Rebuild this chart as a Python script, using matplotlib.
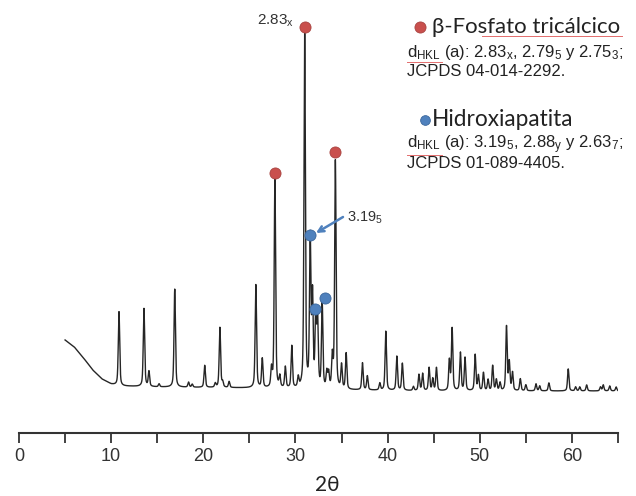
import numpy as np
import matplotlib
matplotlib.use("Agg")
import matplotlib.pyplot as plt

plt.rcParams['font.family'] = ['Liberation Sans', 'DejaVu Sans']
plt.rcParams['mathtext.fontset'] = 'custom'
plt.rcParams['mathtext.rm'] = 'Liberation Sans'
plt.rcParams['mathtext.it'] = 'Liberation Sans:italic'
plt.rcParams['mathtext.default'] = 'regular'

# ── Data ──────────────────────────────────────────────────────────────
# background knots (2θ, intensity a.u.)
bg_x = [5.0, 6.0, 7.0, 8.0, 9.0, 10.0, 11.0, 15.0, 25.0, 35.0, 45.0, 55.0, 65.0]
bg_y = [93, 86, 75, 63, 54, 49, 47, 46, 45, 43, 42, 42, 42]

# peak list: position (2θ) and net height above background
peak_pos = [10.85, 13.56, 14.1, 15.2, 16.9, 18.4, 18.8, 20.15, 21.3, 21.8, 22.1, 22.8,
            25.7, 26.4, 27.4, 27.77, 28.3, 28.9, 29.6, 30.3, 31.0, 31.6, 31.85, 32.2,
            32.4, 32.9, 33.4, 33.6, 34.0, 34.33, 35.0, 35.5,
            37.27, 37.8, 39.15, 39.8, 41.0, 41.6, 42.8, 43.4, 43.8, 44.5, 44.9, 45.3,
            46.7, 47.0, 47.9, 48.4, 49.5, 49.85, 50.4, 50.9, 51.4, 51.8, 52.2,
            52.9, 53.2, 53.55, 54.4, 55.0, 56.1, 56.5, 57.5, 59.6, 60.4, 60.85,
            61.6, 63.1, 63.4, 64.1, 64.8]
peak_h = [74, 78, 15, 3, 98, 5, 3, 22, 4, 60, 5, 6,
          103, 29, 18, 208, 11, 21, 42, 10, 355, 148, 90, 70,
          68, 85, 16, 15, 31, 228, 24, 36,
          27, 14, 7, 59, 34, 27, 4, 16, 17, 23, 12, 23,
          30, 62, 38, 33, 36, 15, 18, 11, 25, 11, 8,
          64, 28, 18, 12, 6, 7, 5, 8, 22, 4, 4,
          6, 4, 6, 5, 4]

# phase markers
tcp_x = [27.77, 31.0, 34.3]       # β-fosfato tricálcico
tcp_y = [260, 406, 281]
hap_x = [31.56, 32.1, 33.19]      # hidroxiapatita
hap_y = [198, 124, 135]

ticks = [0, 5, 10, 15, 20, 25, 30, 35, 40, 45, 50, 55, 60, 65]
tick_labels = ['0', '', '10', '', '20', '', '30', '', '40', '', '50', '', '60', '']

RED, RED_E = '#C9504D', '#A84340'
BLU, BLU_E = '#4F81BD', '#3B679C'
W, H = 636, 496

# ── Pattern ───────────────────────────────────────────────────────────
tt = np.arange(5.0, 65.3, 0.01)
inten = np.interp(tt, bg_x, bg_y)
fw = 0.18
for p, h in zip(peak_pos, peak_h):
    d = (tt - p) / fw
    inten += h * (0.5 / (1 + 4 * d**2) + 0.5 * np.exp(-4 * np.log(2) * d**2))

fig = plt.figure(figsize=(W / 100, H / 100), dpi=100)
ax = fig.add_axes([19 / W, 1 - 433 / H, (618 - 19) / W, (433 - 20) / H])
ax.plot(tt, inten, color='#262626', lw=1.0)
ax.plot(tcp_x, tcp_y, 'o', ms=8, mfc=RED, mec=RED_E, mew=0.6, ls='none', clip_on=False, zorder=5)
ax.plot(hap_x, hap_y, 'o', ms=8, mfc=BLU, mec=BLU_E, mew=0.6, ls='none', clip_on=False, zorder=5)

ax.set_xlim(0, 65)
ax.set_ylim(0, 413)
for s in ['top', 'left', 'right']:
    ax.spines[s].set_visible(False)
ax.spines['bottom'].set_linewidth(1.5)
ax.spines['bottom'].set_color('#333333')
ax.set_yticks([])
ax.set_xticks(ticks)
ax.set_xticklabels(tick_labels)
ax.tick_params(axis='x', direction='out', length=7, width=1.3, color='#333333',
               labelsize=13, labelcolor='#333333', pad=4)

# ── Annotations (pixel positions from top-left) ───────────────────────
def fx(px):
    return px / W

def fy(py):
    return 1 - py / H

fig.text(fx(294), fy(21), r'2.83$_{x}$', ha='right', va='center', fontsize=11, color='#333333')
fig.text(fx(347), fy(218), r'3.19$_{5}$', ha='left', va='center', fontsize=10.5, color='#333333')
ax.annotate('', xy=(fx(316), fy(233)), xytext=(fx(343), fy(217)), xycoords='figure fraction',
            textcoords='figure fraction',
            arrowprops=dict(arrowstyle='->', color=BLU, lw=1.8, shrinkA=0, shrinkB=0))

# legend block
ax.plot([fx(420)], [fy(27)], 'o', ms=8, mfc=RED, mec=RED_E, mew=0.6,
        transform=fig.transFigure, clip_on=False)
ax.plot([fx(425)], [fy(120)], 'o', ms=7, mfc=BLU, mec=BLU_E, mew=0.6,
        transform=fig.transFigure, clip_on=False)
fig.text(fx(432), fy(27), 'β-Fosfato tricálcico', ha='left', va='center',
         fontsize=16, family=['Lato', 'DejaVu Sans'], color='#222222')
fig.text(fx(432), fy(120), 'Hidroxiapatita', ha='left', va='center',
         fontsize=16.3, family=['Lato', 'DejaVu Sans'], color='#222222')
fig.text(fx(407), fy(52), r'd$_{HKL}$ (a): 2.83$_{x}$, 2.79$_{5}$ y 2.75$_{3}$;', ha='left',
         va='center', fontsize=12, color='#222222')
fig.text(fx(407), fy(71), 'JCPDS 04-014-2292.', ha='left', va='center', fontsize=12,
         color='#222222')
fig.text(fx(407), fy(145), r'd$_{HKL}$ (a): 3.19$_{5}$, 2.88$_{y}$ y 2.63$_{7}$;', ha='left',
         va='center', fontsize=12, color='#222222')
fig.text(fx(407), fy(164), 'JCPDS 01-089-4405.', ha='left', va='center', fontsize=12,
         color='#222222')

# spell-check underlines seen in the source
for x0, x1, y in [(482, 622, 36), (407, 442, 62), (407, 442, 155)]:
    fig.add_artist(plt.Line2D([fx(x0), fx(x1)], [fy(y), fy(y)], color='#E36C6C', lw=0.7))

fig.text(fx(327), fy(485), '2θ', ha='center', va='center', fontsize=15,
         family=['Lato', 'DejaVu Sans'], color='#222222')

fig.savefig('out.png', dpi=100)
